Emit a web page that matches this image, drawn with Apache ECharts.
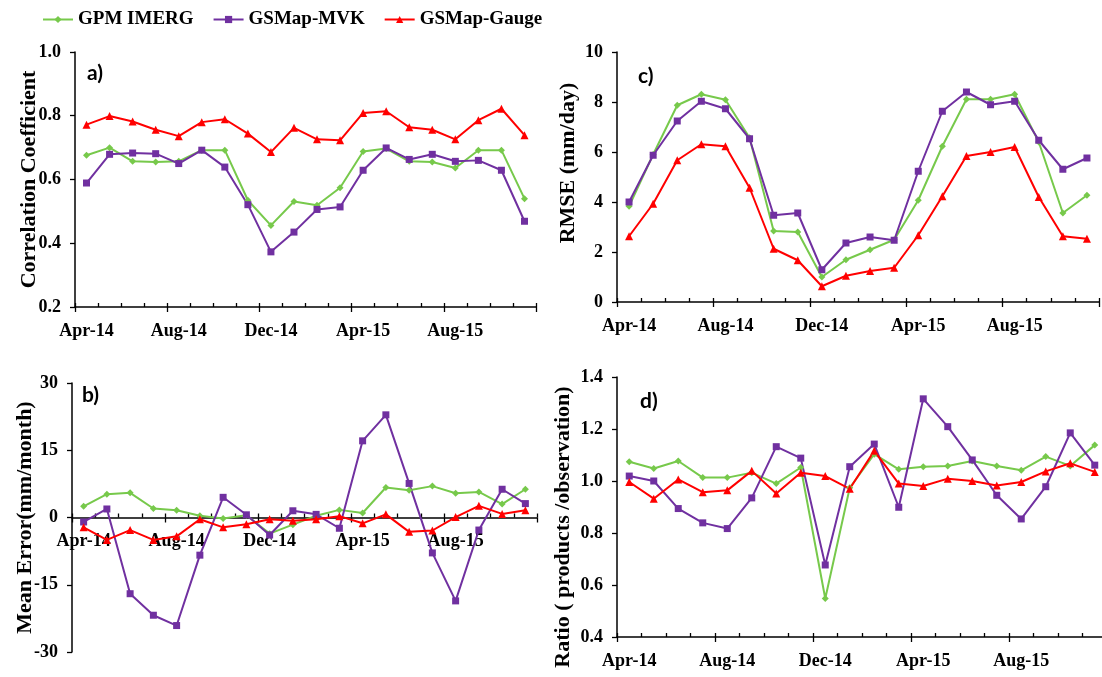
<!DOCTYPE html>
<html>
<head>
<meta charset="utf-8">
<script src="https://cdn.jsdelivr.net/npm/echarts@6/dist/echarts.min.js"></script>
<style>
  html, body { margin: 0; padding: 0; background: #fff; }
  #chart { width: 1102px; height: 677px; }
</style>
</head>
<body>
<div id="chart"></div>
<script>
var months = ['Apr-14','May-14','Jun-14','Jul-14','Aug-14','Sep-14','Oct-14','Nov-14','Dec-14','Jan-15',
              'Feb-15','Mar-15','Apr-15','May-15','Jun-15','Jul-15','Aug-15','Sep-15','Oct-15','Nov-15'];

// a) correlation coefficient
var gpmCC   = [0.676,0.700,0.657,0.655,0.657,0.692,0.692,0.535,0.456,0.531,0.519,0.574,0.688,0.697,0.657,0.655,0.636,0.692,0.692,0.540];
var mvkCC   = [0.589,0.679,0.683,0.681,0.650,0.692,0.639,0.521,0.373,0.435,0.506,0.514,0.629,0.699,0.663,0.679,0.657,0.660,0.629,0.469];
var gaugeCC = [0.772,0.799,0.782,0.756,0.736,0.780,0.789,0.744,0.686,0.762,0.726,0.723,0.809,0.814,0.764,0.756,0.726,0.786,0.822,0.739];

// b) mean error (mm/month)
var gpmME   = [2.5,5.2,5.5,2.0,1.6,0.4,-0.2,0.5,-3.6,-1.6,0.4,1.7,1.0,6.7,6.1,7.0,5.4,5.7,3.0,6.3];
var mvkME   = [-1.0,1.9,-17.0,-21.8,-24.1,-8.4,4.5,0.6,-3.9,1.5,0.7,-2.4,17.1,22.9,7.6,-7.9,-18.6,-2.8,6.3,3.1];
var gaugeME = [-2.2,-5.0,-2.8,-5.0,-4.2,-0.4,-2.2,-1.5,-0.4,-0.7,-0.4,0.3,-1.3,0.7,-3.2,-2.9,0.1,2.6,0.8,1.6];

// c) RMSE (mm/day)
var gpmRMSE   = [3.83,5.9,7.87,8.31,8.09,6.57,2.84,2.8,1.0,1.69,2.09,2.49,4.07,6.23,8.11,8.11,8.31,6.4,3.56,4.27];
var mvkRMSE   = [4.0,5.87,7.24,8.03,7.73,6.53,3.47,3.56,1.29,2.36,2.6,2.47,5.23,7.63,8.4,7.89,8.03,6.47,5.31,5.76];
var gaugeRMSE = [2.63,3.93,5.67,6.31,6.23,4.57,2.13,1.67,0.63,1.05,1.24,1.37,2.67,4.23,5.84,6.0,6.2,4.2,2.63,2.53];

// d) ratio products / observation
var gpmRatio   = [1.074,1.048,1.077,1.013,1.013,1.032,0.990,1.052,0.548,0.974,1.103,1.045,1.055,1.058,1.077,1.058,1.041,1.094,1.058,1.138];
var mvkRatio   = [1.019,1.000,0.894,0.839,0.817,0.935,1.132,1.088,0.677,1.055,1.142,0.899,1.316,1.209,1.081,0.945,0.854,0.978,1.185,1.061];
var gaugeRatio = [0.996,0.932,1.006,0.957,0.964,1.039,0.952,1.032,1.019,0.970,1.116,0.990,0.981,1.009,1.000,0.983,0.996,1.037,1.068,1.035];

var serif = 'Liberation Serif';
var chart = echarts.init(document.getElementById('chart'));

// grid order: a (top-left), c (top-right), b (bottom-left), d (bottom-right)
var grids = [
    {left: 75,  top: 52,  width: 461, height: 255},
    {left: 617, top: 52,  width: 482, height: 250},
    {left: 72,  top: 383, width: 465, height: 269},
    {left: 617, top: 377, width: 490, height: 260}
];
// panel b draws its month axis on the zero line
var xOffsets = [0, 0, -134.5, 0];

function xAxes(gi) {
    var lbl = {fontFamily: serif, fontWeight: 'bold', fontSize: 18, color: '#000', interval: 3, margin: 15};
    return [
        {   // month ticks (inside) + labels
            type: 'category', gridIndex: gi, data: months, position: 'bottom', offset: xOffsets[gi],
            axisLine: {show: true, onZero: false, lineStyle: {color: '#000', width: 1.5}},
            axisTick: {show: true, interval: 0, inside: true, length: 4, lineStyle: {color: '#000', width: 1.3}},
            axisLabel: lbl,
            splitLine: {show: false}
        },
        {   // longer ticks every 4 months
            type: 'category', gridIndex: gi, data: months, position: 'bottom', offset: xOffsets[gi],
            axisLine: {show: false, onZero: false},
            axisTick: {show: true, interval: 3, inside: false, length: 5, lineStyle: {color: '#000', width: 1.3}},
            axisLabel: {show: false},
            splitLine: {show: false}
        }
    ];
}

function yAxis(gi, name, min, max, step, digits, gap, pad) {
    return {
        type: 'value', gridIndex: gi, min: min, max: max, interval: step,
        name: name, nameLocation: 'middle', nameGap: gap, nameMoveOverlap: false,
        nameTextStyle: {fontFamily: serif, fontWeight: 'bold', fontSize: 22, color: '#000', padding: pad},
        axisLine: {show: true, lineStyle: {color: '#000', width: 1.5}},
        axisTick: {show: true, length: 5, lineStyle: {color: '#000', width: 1.3}},
        axisLabel: {fontFamily: serif, fontWeight: 'bold', fontSize: 18, color: '#000', margin: 14,
            formatter: function (v) { return v.toFixed(digits); }},
        splitLine: {show: false}
    };
}

var styles = [
    {name: 'GPM IMERG',   color: '#77c94b', symbol: 'diamond',  size: 7},
    {name: 'GSMap-MVK',   color: '#7030a0', symbol: 'rect',     size: 7},
    {name: 'GSMap-Gauge', color: '#ff0000', symbol: 'triangle', size: 8}
];

var panelData = [
    [gpmCC, mvkCC, gaugeCC],
    [gpmRMSE, mvkRMSE, gaugeRMSE],
    [gpmME, mvkME, gaugeME],
    [gpmRatio, mvkRatio, gaugeRatio]
];

var series = [];
panelData.forEach(function (sets, gi) {
    sets.forEach(function (vals, k) {
        var s = styles[k];
        series.push({
            name: s.name, type: 'line', xAxisIndex: gi * 2, yAxisIndex: gi,
            data: vals, symbol: s.symbol, symbolSize: s.size, showSymbol: true,
            lineStyle: {color: s.color, width: 2},
            itemStyle: {color: s.color},
            emphasis: {disabled: true},
            animation: false
        });
    });
});

var xs = [].concat(xAxes(0), xAxes(1), xAxes(2), xAxes(3));

var panelLabel = function (txt, x, y) {
    return {type: 'text', left: x, top: y,
        style: {text: txt, fontFamily: 'Lato', fontWeight: 'bold', fontSize: 21, fill: '#000'}};
};

option = {
    backgroundColor: '#fff',
    animation: false,
    legend: {
        data: ['GPM IMERG', 'GSMap-MVK', 'GSMap-Gauge'],
        left: 37, top: 5,
        itemWidth: 30, itemHeight: 9, itemGap: 19,
        textStyle: {fontFamily: serif, fontWeight: 'bold', fontSize: 19, color: '#000'}
    },
    grid: grids.map(function (g) {
        return {left: g.left, top: g.top, width: g.width, height: g.height, containLabel: false, outerBoundsMode: 'none'};
    }),
    xAxis: xs,
    yAxis: [
        yAxis(0, 'Correlation Coefficient', 0.2, 1.0, 0.2, 1, 35, [0, 0, 0, 0]),
        yAxis(1, 'RMSE (mm/day)', 0, 10, 2, 0, 38, [0, 0, 0, 28]),
        yAxis(2, 'Mean Error(mm/month)', -30, 30, 15, 0, 36, [0, 0, 0, 0]),
        yAxis(3, 'Ratio ( products /observation)', 0.4, 1.4, 0.2, 1, 43, [0, 40, 0, 0])
    ],
    graphic: [
        panelLabel('a)', 87, 63),
        panelLabel('c)', 638, 66),
        panelLabel('b)', 82, 385),
        panelLabel('d)', 640, 391)
    ],
    series: series
};

if (option && typeof option === "object") {
    chart.setOption(option, true);
}
</script>
</body>
</html>
